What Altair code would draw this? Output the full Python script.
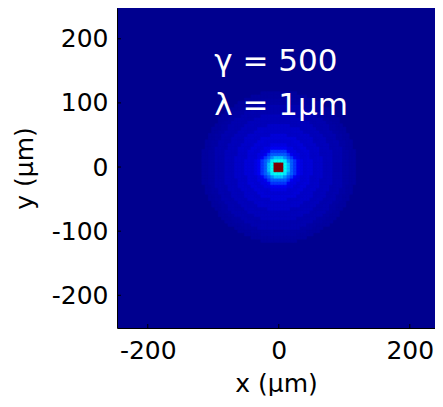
import altair as alt
import numpy as np
import pandas as pd

# Radial intensity profile (normalised): band upper radius (um) -> value
band_edge = [7.5, 12, 14.5, 17, 19, 23, 27, 32, 38, 45, 52, 60, 68, 76, 84, 92, 100, 108, 118]
band_val = [1.0, 0.40, 0.34, 0.28, 0.22, 0.17, 0.14, 0.112, 0.095, 0.078, 0.084, 0.064, 0.068, 0.05, 0.052, 0.036, 0.038, 0.024, 0.02]
grid_step = 5  # um, pixel size of the simulated image
grid_half = 24  # number of cells either side of centre

x_ticks = [-200, 0, 200]
y_ticks = [-200, -100, 0, 100, 200]
x_domain = [-247, 238.5]
y_domain = [-251, 248]

ann_text = ["γ = 500", "λ = 1μm"]
ann_x = [-98.6, -98.6]
ann_y = [149, 80.7]

# build the cell table
centres = np.arange(-grid_half, grid_half + 1) * grid_step
rows = []
for cx in centres:
    for cy in centres:
        r = float(np.hypot(cx, cy))
        v = None
        for edge, val in zip(band_edge, band_val):
            if r < edge:
                v = val
                break
        if v is None:
            continue
        rows.append({"x0": cx - grid_step / 2, "x1": cx + grid_step / 2,
                     "y0": cy - grid_step / 2, "y1": cy + grid_step / 2, "v": v})
cells = pd.DataFrame(rows)

W, H = 318, 320
xs = alt.Scale(domain=x_domain, nice=False, zero=False)
ys = alt.Scale(domain=y_domain, nice=False, zero=False)
FONT = "DejaVu Sans"
LBL = "datum.value < 0 ? '-' + abs(datum.value) : '' + datum.value"

jet = alt.Scale(domain=[0, 0.125, 0.375, 0.625, 0.875, 1.0],
                range=["#00008F", "#0000FF", "#00FFFF", "#FFFF00", "#FF0000", "#800000"],
                type="linear", clamp=True)

heat = alt.Chart(cells).mark_rect(strokeWidth=0.6).encode(
    x=alt.X("x0:Q", scale=xs, axis=alt.Axis(values=x_ticks, title="x  (μm)", grid=False, ticks=False,
                                           domainColor="black", domainWidth=1, labelFont=FONT, labelFontSize=25,
                                           labelColor="black", labelPadding=10, titleFont=FONT, titleFontSize=25,
                                           titleFontWeight="normal", titleColor="black", titlePadding=8,
                                           labelFlush=False, labelExpr=LBL)),
    x2="x1:Q",
    y=alt.Y("y0:Q", scale=ys, axis=alt.Axis(values=y_ticks, title="y  (μm)", grid=False, ticks=False,
                                           domainColor="black", domainWidth=1, labelFont=FONT, labelFontSize=25,
                                           labelColor="black", labelPadding=9, titleFont=FONT, titleFontSize=25,
                                           titleFontWeight="normal", titleColor="black", titlePadding=14,
                                           labelFlush=False, labelExpr=LBL)),
    y2="y1:Q",
    color=alt.Color("v:Q", scale=jet, legend=None),
    stroke=alt.Color("v:Q", scale=jet, legend=None),
)

xt = alt.Chart(pd.DataFrame({"t": x_ticks})).mark_rule(color="black", strokeWidth=1).encode(
    x=alt.X("t:Q", scale=xs), y=alt.value(H), y2=alt.value(H - 4))
yt = alt.Chart(pd.DataFrame({"t": y_ticks})).mark_rule(color="black", strokeWidth=1).encode(
    y=alt.Y("t:Q", scale=ys), x=alt.value(0), x2=alt.value(4))

ann = alt.Chart(pd.DataFrame({"x": ann_x, "y": ann_y, "t": ann_text})).mark_text(
    font=FONT, fontSize=31, color="white", align="left", baseline="alphabetic").encode(
    x=alt.X("x:Q", scale=xs), y=alt.Y("y:Q", scale=ys), text="t:N")

chart = alt.layer(heat, xt, yt, ann).properties(
    width=W, height=H, padding={"left": 4, "top": 0, "right": 0, "bottom": 0}
).configure_view(fill="#00008F", strokeWidth=0)

chart.save("out.html", embed_options={"renderer": "svg", "actions": False})
